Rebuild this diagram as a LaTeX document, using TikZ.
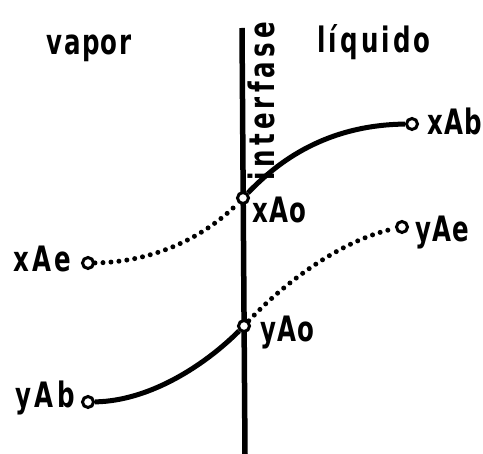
\documentclass[tikz,border=0pt]{standalone}
\usepackage{fontspec}
\setmainfont{DejaVu Sans}[FakeStretch=0.7]
\begin{document}
\begin{tikzpicture}[x=1pt,y=-1pt,
  lbl/.style={font=\fontsize{35}{35}\selectfont\bfseries, inner sep=0pt},
  pt/.style={circle, draw, line width=3pt, fill=white, inner sep=0pt, minimum size=11pt},
  solidc/.style={line width=5pt},
  dotc/.style={line width=5pt, line cap=round, dash pattern=on 0pt off 8pt},
  axis/.style={line width=5.5pt}]
\useasboundingbox (0,0) rectangle (483,454);
% interface line
\coordinate (ltop) at (242,28);
\coordinate (lbot) at (245,454);
\draw[axis] (ltop) -- (lbot);
% points
\node[pt] (xAb) at (412,124) {};
\node[pt] (xAo) at (243,198) {};
\node[pt] (xAe) at (88,263) {};
\node[pt] (yAe) at (402,227) {};
\node[pt] (yAo) at (244,326) {};
\node[pt] (yAb) at (88,402) {};
% curves
\draw[solidc] (xAo) .. controls (272,168) and (320,125) .. (xAb);
\draw[dotc] (xAe) .. controls (160,262) and (210,232) .. (xAo);
\draw[dotc] (yAo) .. controls (282,285) and (340,240) .. (yAe);
\draw[solidc] (yAb) .. controls (150,401) and (205,365) .. (yAo);
% headings
\node[lbl, anchor=base] (vapor) at (89,55) {\addfontfeatures{LetterSpace=4}vapor};
\node[lbl, anchor=base] (liquido) at (374,53) {\addfontfeatures{LetterSpace=9}líquido};
\node[lbl, anchor=base, rotate=90] (interfase) at (274,101) {\addfontfeatures{LetterSpace=12}interfase};
% labels
\node[lbl, anchor=base west] (txAb) at (427,135) {\addfontfeatures{LetterSpace=3}xAb};
\node[lbl, anchor=base west] (txAo) at (252,223) {\addfontfeatures{LetterSpace=3}xAo};
\node[lbl, anchor=base west] (txAe) at (13,272) {\addfontfeatures{LetterSpace=10}xAe};
\node[lbl, anchor=base west] (tyAe) at (415,242) {\addfontfeatures{LetterSpace=3}yAe};
\node[lbl, anchor=base west] (tyAo) at (260,342) {\addfontfeatures{LetterSpace=3}yAo};
\node[lbl, anchor=base west] (tyAb) at (15,408) {\addfontfeatures{LetterSpace=10}yAb};
\end{tikzpicture}
\end{document}
